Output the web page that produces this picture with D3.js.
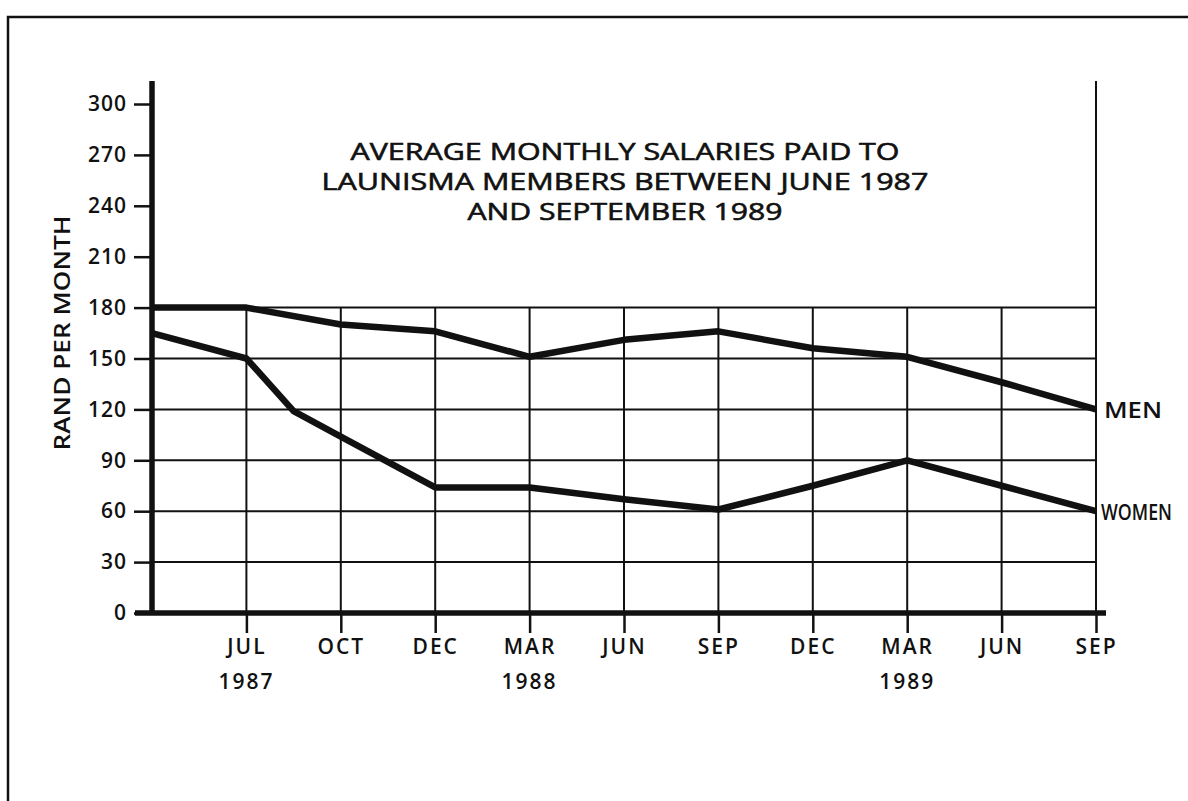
<!DOCTYPE html>
<html>
<head>
<meta charset="utf-8">
<script src="https://cdn.jsdelivr.net/npm/d3@7"></script>
<style>
  html, body { margin: 0; padding: 0; background: #fff; }
  svg { display: block; }
  text { font-family: "Open Sans", "DejaVu Sans", sans-serif; fill: #111; }
</style>
</head>
<body>
<svg id="chart" width="1188" height="801"></svg>
<script>
// ---- data ----
const categories = ["", "JUL", "OCT", "DEC", "MAR", "JUN", "SEP", "DEC", "MAR", "JUN", "SEP"];
const yearLabels = ["", "1987", "", "", "1988", "", "", "", "1989", "", ""];
const yTicks = [0, 30, 60, 90, 120, 150, 180, 210, 240, 270, 300];
const gridValues = [30, 60, 90, 120, 150, 180];
const menValues = [180, 180, 170, 166, 151, 161, 166, 156, 151, 136, 120];
const womenPositions = [0, 1, 1.5, 2, 3, 4, 5, 6, 7, 8, 9, 10];
const womenValues = [165, 150, 119, 104, 74, 74, 67, 61, 75, 90, 75, 60];
const titleLines = ["AVERAGE MONTHLY SALARIES PAID TO", "LAUNISMA MEMBERS BETWEEN JUNE 1987", "AND SEPTEMBER 1989"];
const yTitle = "RAND PER MONTH";

// ---- layout ----
const svg = d3.select("#chart");
const left = 152, right = 1096, bottom = 613, topAxis = 81;
const x = d3.scaleLinear().domain([0, categories.length - 1]).range([left, right]);
const y = d3.scaleLinear().domain([0, 300]).range([bottom, 104]);
const ink = "#111";

// frame
svg.append("rect").attr("x", 8).attr("y", 17).attr("width", 1200).attr("height", 820)
  .attr("fill", "none").attr("stroke", ink).attr("stroke-width", 2.5);

// horizontal grid
svg.append("g").selectAll("line").data(gridValues).join("line")
  .attr("x1", left).attr("x2", right)
  .attr("y1", d => y(d)).attr("y2", d => y(d))
  .attr("stroke", ink).attr("stroke-width", 2);

// vertical grid
const idx = d3.range(1, categories.length);
svg.append("g").selectAll("line").data(idx).join("line")
  .attr("x1", d => x(d)).attr("x2", d => x(d))
  .attr("y1", d => d === categories.length - 1 ? topAxis : y(180))
  .attr("y2", y(0))
  .attr("stroke", ink).attr("stroke-width", 2);

// y axis ticks + labels
const yAxis = d3.axisLeft(y).tickValues(yTicks).tickSize(18).tickPadding(7).tickFormat(d3.format("d"));
const gy = svg.append("g").attr("transform", `translate(${left},0)`).call(yAxis);
gy.select(".domain").remove();
gy.selectAll(".tick line").attr("stroke", ink).attr("stroke-width", 2.5);
gy.selectAll(".tick text")
  .style("font-family", '"Open Sans", sans-serif')
  .attr("font-size", 21).attr("font-weight", 600)
  .attr("letter-spacing", "1px").attr("fill", ink);

// x axis ticks + labels
const xAxis = d3.axisBottom(x).tickValues(idx).tickSize(20).tickPadding(6)
  .tickFormat(d => categories[d]);
const gx = svg.append("g").attr("transform", `translate(0,${bottom})`).call(xAxis);
gx.select(".domain").remove();
gx.selectAll(".tick line").attr("stroke", ink).attr("stroke-width", 2.5);
gx.selectAll(".tick text")
  .style("font-family", '"Open Sans", sans-serif')
  .attr("font-size", 21).attr("font-weight", 600)
  .attr("letter-spacing", "2px").attr("fill", ink);

// year labels
svg.append("g").selectAll("text").data(yearLabels.map((t, i) => ({t, i})).filter(d => d.t))
  .join("text")
  .attr("x", d => x(d.i)).attr("y", 689)
  .attr("text-anchor", "middle")
  .attr("font-size", 21).attr("font-weight", 600).attr("letter-spacing", "2px")
  .text(d => d.t);

// axes (thick)
svg.append("line").attr("x1", left).attr("x2", left).attr("y1", topAxis).attr("y2", bottom + 2)
  .attr("stroke", ink).attr("stroke-width", 5.5);
svg.append("line").attr("x1", 135).attr("x2", 1106).attr("y1", bottom).attr("y2", bottom)
  .attr("stroke", ink).attr("stroke-width", 5.5);

// data lines
const line = d3.line().x(d => x(d[0])).y(d => y(d[1]));
const menData = menValues.map((v, i) => [i, v]);
const womenData = womenValues.map((v, i) => [womenPositions[i], v]);
svg.append("path").datum(menData).attr("d", line)
  .attr("fill", "none").attr("stroke", ink).attr("stroke-width", 6.5).attr("stroke-linejoin", "round");
svg.append("path").datum(womenData).attr("d", line)
  .attr("fill", "none").attr("stroke", ink).attr("stroke-width", 6.5).attr("stroke-linejoin", "round");

// series labels
svg.append("text").attr("x", 1104).attr("y", y(menValues[menValues.length - 1]) + 9)
  .attr("font-size", 21).attr("font-weight", 600).attr("textLength", 58)
  .attr("lengthAdjust", "spacingAndGlyphs").text("MEN");
svg.append("text").attr("x", 1101).attr("y", y(womenValues[womenValues.length - 1]) + 9)
  .attr("font-size", 21).attr("font-weight", 600).attr("textLength", 71)
  .attr("lengthAdjust", "spacingAndGlyphs").text("WOMEN");

// title
const titleWidths = [549, 607, 315];
svg.append("g").selectAll("text").data(titleLines).join("text")
  .attr("x", 625).attr("y", (d, i) => 160 + i * 30)
  .attr("text-anchor", "middle")
  .attr("font-size", 24).attr("font-weight", 400)
  .attr("stroke", ink).attr("stroke-width", 0.6)
  .attr("textLength", (d, i) => titleWidths[i]).attr("lengthAdjust", "spacingAndGlyphs")
  .text(d => d);

// y axis title
svg.append("text")
  .attr("transform", "translate(70,333) rotate(-90)")
  .attr("text-anchor", "middle")
  .attr("font-size", 21).attr("font-weight", 600)
  .attr("textLength", 235).attr("lengthAdjust", "spacingAndGlyphs")
  .text(yTitle);
</script>
</body>
</html>
